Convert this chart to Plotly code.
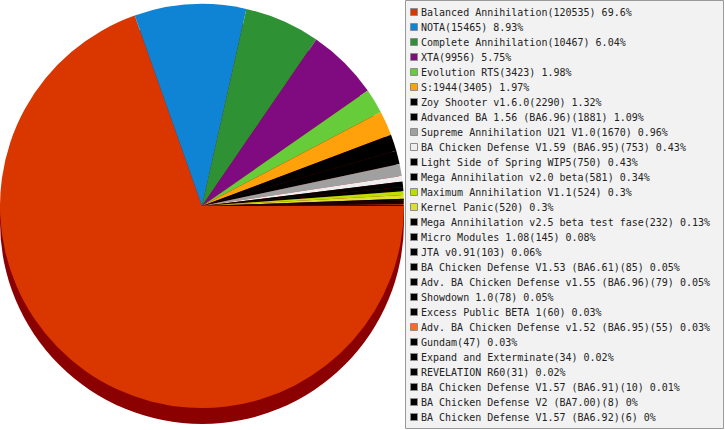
import plotly.graph_objects as go

# mods and their game counts, in legend order
mods = [
    "Balanced Annihilation", "NOTA", "Complete Annihilation", "XTA",
    "Evolution RTS", "S:1944", "Zoy Shooter v1.6.0",
    "Advanced BA 1.56 (BA6.96)", "Supreme Annihilation U21 V1.0",
    "BA Chicken Defense V1.59 (BA6.95)", "Light Side of Spring WIP5",
    "Mega Annihilation v2.0 beta", "Maximum Annihilation V1.1",
    "Kernel Panic", "Mega Annihilation v2.5 beta test fase",
    "Micro Modules 1.08", "JTA v0.91", "BA Chicken Defense V1.53 (BA6.61)",
    "Adv. BA Chicken Defense v1.55 (BA6.96)", "Showdown 1.0",
    "Excess Public BETA 1", "Adv. BA Chicken Defense v1.52 (BA6.95)",
    "Gundam", "Expand and Exterminate", "REVELATION R60",
    "BA Chicken Defense V1.57 (BA6.91)", "BA Chicken Defense V2 (BA7.00)",
    "BA Chicken Defense V1.57 (BA6.92)",
]
games = [
    120535, 15465, 10467, 9956, 3423, 3405, 2290, 1881, 1670, 753, 750,
    581, 524, 520, 232, 145, 103, 85, 79, 78, 60, 55, 47, 34, 31, 10, 8, 6,
]
colors = [
    "#da3700", "#1084d4", "#2e9235", "#800a80", "#66cc3a", "#ffa10a",
    "#000000", "#000000", "#a0a0a0", "#eeeeee", "#000000", "#000000",
    "#bbe000", "#dddd33", "#000000", "#000000", "#000000", "#000000",
    "#000000", "#000000", "#000000", "#ff6a1a", "#000000", "#000000",
    "#000000", "#000000", "#000000", "#000000",
]

total = sum(games)


def pct(v):
    s = f"{100 * v / total:.2f}".rstrip("0").rstrip(".")
    return s + "%"


labels = [f"{m}({g}) {pct(g)}" for m, g in zip(mods, games)]

W, H = 725, 430
# pie placement (pixels)
pie_left, pie_right, pie_top, pie_bottom = 0, 404, 2, 410
cx = (pie_left + pie_right) / 2
cy = (pie_top + pie_bottom) / 2
r = min(pie_right - pie_left, pie_bottom - pie_top) / 2
depth = 16

# legend layout (pixels)
row0, row_h = 12, 15
sw_x, txt_x = 414, 419

fig = go.Figure()

fig.add_trace(go.Pie(
    labels=mods,
    values=games,
    marker=dict(colors=colors, line=dict(width=0)),
    sort=False,
    direction="clockwise",
    rotation=90,
    textinfo="none",
    hovertext=labels,
    hoverinfo="text",
    showlegend=False,
    domain=dict(x=[pie_left / W, pie_right / W],
                y=[1 - pie_bottom / H, 1 - pie_top / H]),
))

# legend swatches
fig.add_trace(go.Scatter(
    x=[sw_x] * len(mods),
    y=[row0 + row_h * i for i in range(len(mods))],
    mode="markers",
    marker=dict(symbol="square", size=7, color=colors,
                line=dict(color="#8c8c8c", width=1)),
    hoverinfo="skip",
    showlegend=False,
))

for i, lab in enumerate(labels):
    fig.add_annotation(
        x=txt_x, y=row0 + row_h * i, xref="x", yref="y",
        text=lab, showarrow=False, xanchor="left", yanchor="middle",
        font=dict(family="DejaVu Sans Mono", size=10, color="#222222"),
    )

# 3D depth of the pie
fig.add_shape(type="rect", xref="x", yref="y", layer="below",
              x0=cx - r, x1=cx + r, y0=cy, y1=cy + depth,
              fillcolor="#8b0000", line=dict(width=0))
fig.add_shape(type="circle", xref="x", yref="y", layer="below",
              x0=cx - r, x1=cx + r, y0=cy - r + depth, y1=cy + r + depth,
              fillcolor="#8b0000", line=dict(width=0))
# legend box
fig.add_shape(type="rect", xref="x", yref="y", layer="below",
              x0=405.5, x1=723.5, y0=0.5, y1=428.5,
              fillcolor="#f2f2f2", line=dict(color="#999999", width=1))

fig.update_xaxes(range=[0, W], visible=False, fixedrange=True)
fig.update_yaxes(range=[H, 0], visible=False, fixedrange=True)
fig.update_layout(
    width=W, height=H,
    margin=dict(l=0, r=0, t=0, b=0),
    paper_bgcolor="white", plot_bgcolor="white",
)

fig.write_html(
    "out.html",
    config={"displayModeBar": False},
    post_script="document.body.style.margin='0';document.body.style.overflow='hidden';",
)
